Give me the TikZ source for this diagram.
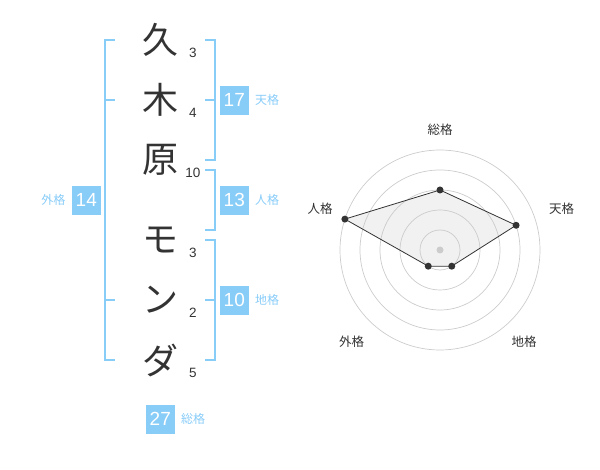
\documentclass[tikz,border=0pt]{standalone}
\usepackage{fontspec}
\setmainfont{Liberation Sans}
\newfontfamily\jp{Noto Sans CJK JP}
\usetikzlibrary{calc}
\definecolor{kaku}{HTML}{88CCF8}
\definecolor{ink}{HTML}{333333}
\definecolor{ring}{HTML}{CCCCCC}
\definecolor{area}{HTML}{F1F1F1}

\begin{document}
\begin{tikzpicture}[x=1pt,y=-1pt,
  bar/.style={kaku,line width=2pt},
  moji/.style={text=ink,font=\jp\fontsize{36}{36}\selectfont,inner sep=0pt},
  kazu/.style={text=ink,font=\fontsize{13.5}{13.5}\selectfont,inner sep=0pt},
  numbox/.style={fill=kaku,text=white,minimum size=29pt,inner sep=0pt,font=\fontsize{19}{19}\selectfont},
  kakulabel/.style={text=kaku,font=\jp\fontsize{12}{12}\selectfont,inner sep=0pt},
  axislabel/.style={text=ink,font=\jp\fontsize{12.5}{12.5}\selectfont,inner sep=0pt},
  dot/.style={circle,fill=ink,inner sep=0pt,minimum size=7pt}]
\useasboundingbox (0,0) rectangle (600,470);

% name, one character per row, with stroke counts
\foreach \ch/\y/\n [count=\i] in {久/40/3,木/100/4,原/160/10,モ/240/3,ン/300/2,ダ/360/5}{
  \node[moji] (k\i) at (160,\y) {\ch};
  \node[kazu] (s\i) at (193,\y+13) {\n};
}

% brackets
\draw[bar] (115,40) -- (105,40) -- (105,360) -- (115,360);
\draw[bar] (105,100) -- (115,100);
\draw[bar] (105,300) -- (115,300);
\draw[bar] (205,40) -- (215,40) -- (215,160) -- (205,160);
\draw[bar] (205,100) -- (215,100);
\draw[bar] (205,170) -- (215,170) -- (215,230) -- (205,230);
\draw[bar] (205,240) -- (215,240) -- (215,360) -- (205,360);
\draw[bar] (205,300) -- (215,300);

% totals
\node[numbox] (ten) at (234.3,100.3) {17};
\node[kakulabel,right=6pt] at (ten.east) {天格};
\node[numbox] (jin) at (234.3,200.3) {13};
\node[kakulabel,right=6pt] at (jin.east) {人格};
\node[numbox] (chi) at (234.3,300.3) {10};
\node[kakulabel,right=6pt] at (chi.east) {地格};
\node[numbox] (gai) at (86.3,200.3) {14};
\node[kakulabel,left=6pt] at (gai.west) {外格};
\node[numbox] (sou) at (160.3,419.3) {27};
\node[kakulabel,right=6pt] at (sou.east) {総格};

% radar
\coordinate (c) at (440,250);
\coordinate (rsou) at ($(c)+(-90:60)$);
\coordinate (rten) at ($(c)+(-18:80)$);
\coordinate (rchi) at ($(c)+(54:20)$);
\coordinate (rgai) at ($(c)+(126:20)$);
\coordinate (rjin) at ($(c)+(198:100)$);
\fill[area] (rsou) -- (rten) -- (rchi) -- (rgai) -- (rjin) -- cycle;
\foreach \r in {20,40,...,100} \draw[ring,line width=0.7pt] (c) circle (\r);
\draw[ink,line width=0.8pt] (rsou) -- (rten) -- (rchi) -- (rgai) -- (rjin) -- cycle;
\fill[ring] (c) circle (3.5);
\foreach \p in {rsou,rten,rchi,rgai,rjin} \node[dot] at (\p) {};
\node[axislabel] at (440,130) {総格};
\node[axislabel] at (561.7,208.3) {天格};
\node[axislabel] at (524,341.7) {地格};
\node[axislabel] at (351.7,341.7) {外格};
\node[axislabel] at (320,208.3) {人格};
\end{tikzpicture}
\end{document}
